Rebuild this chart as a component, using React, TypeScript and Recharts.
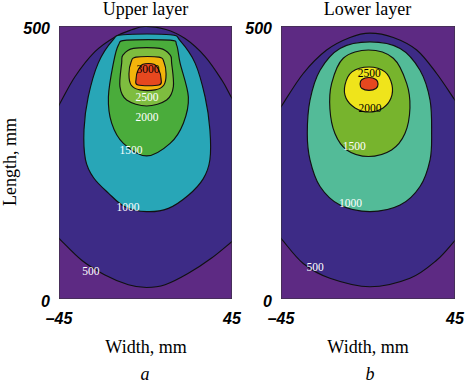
import React from "react";
import { ScatterChart, Scatter, XAxis, YAxis } from "recharts";

type Pt = { x: number; y: number };
type Tag = { x: number; y: number; text: string };

// axes: width -45..45 mm, length 0..500 mm
const widthTicks = [-45, 45];
const lengthTicks = [0, 500];
const frame: Pt[] = [
  { x: -45, y: 0 },
  { x: -45, y: 500 },
  { x: 45, y: 500 },
  { x: 45, y: 0 },
];

// upper layer contours
const upper500: Pt[] = [
  { x: -51, y: 318 }, { x: -45, y: 355 }, { x: -36.7, y: 407 }, { x: -26.3, y: 453 },
  { x: -15.9, y: 480 }, { x: -7.2, y: 493 }, { x: -0.3, y: 499 }, { x: 10.2, y: 494 },
  { x: 20.6, y: 477 }, { x: 31, y: 444 }, { x: 39.7, y: 401 }, { x: 44.9, y: 368 },
  { x: 51, y: 330 }, { x: 54, y: 225 }, { x: 51, y: 122 }, { x: 44.9, y: 105 },
  { x: 34.4, y: 75 }, { x: 22.3, y: 47 }, { x: 10.2, y: 26 }, { x: 0.6, y: 21 },
  { x: -8.9, y: 26 }, { x: -21.1, y: 44 }, { x: -33.2, y: 71 }, { x: -45, y: 111 },
  { x: -51, y: 131 }, { x: -54, y: 225 },
];
const upper1000: Pt[] = [
  { x: -11.5, y: 484 }, { x: 12.8, y: 484 }, { x: 18, y: 473 }, { x: 25.8, y: 432 },
  { x: 31, y: 370 }, { x: 33.5, y: 310 }, { x: 33.5, y: 255 }, { x: 30, y: 220 },
  { x: 22.3, y: 190 }, { x: 11.9, y: 166 }, { x: 0.6, y: 160 }, { x: -10.7, y: 169 },
  { x: -19.3, y: 194 }, { x: -27, y: 222 }, { x: -31.2, y: 255 }, { x: -32, y: 310 },
  { x: -29.8, y: 370 }, { x: -24.6, y: 432 }, { x: -17, y: 474 },
];
const upper1500: Pt[] = [
  { x: -9.8, y: 474 }, { x: 12.8, y: 474 }, { x: 16.2, y: 465 }, { x: 18, y: 432 },
  { x: 22.3, y: 370 }, { x: 19.7, y: 322 }, { x: 12.8, y: 285 }, { x: 0.6, y: 262 },
  { x: -11.5, y: 285 }, { x: -17.6, y: 322 }, { x: -19.3, y: 370 }, { x: -16.7, y: 432 },
  { x: -14.1, y: 465 },
];
const upper2000: Pt[] = [
  { x: -6.3, y: 459 }, { x: 7.5, y: 459 }, { x: 12.8, y: 447 }, { x: 13.6, y: 432 },
  { x: 14.5, y: 389 }, { x: 11, y: 364.5 }, { x: 0.6, y: 353.5 }, { x: -9.8, y: 364.5 },
  { x: -13.3, y: 389 }, { x: -12.4, y: 432 }, { x: -11.7, y: 447 },
];
const upper2500: Pt[] = [
  { x: -4.9, y: 443 }, { x: 7, y: 443 }, { x: 9.6, y: 434 }, { x: 10.7, y: 412 },
  { x: 9.6, y: 392 }, { x: 5, y: 383 }, { x: -2.9, y: 383 }, { x: -7.5, y: 392 },
  { x: -8.6, y: 412 }, { x: -7.5, y: 434 },
];
const upper3000: Pt[] = [
  { x: -1.3, y: 430 }, { x: 4.4, y: 430 }, { x: 7, y: 419 }, { x: 8.1, y: 403 },
  { x: 7, y: 392 }, { x: -3.9, y: 392 }, { x: -4.9, y: 403 }, { x: -3.9, y: 419 },
];
const upperTagsDark: Tag[] = [{ x: 1.3, y: 421, text: "3000" }];
const upperTagsLight: Tag[] = [
  { x: 0.8, y: 370, text: "2500" },
  { x: 0.8, y: 333, text: "2000" },
  { x: -7.6, y: 273, text: "1500" },
  { x: -9.1, y: 168, text: "1000" },
  { x: -28.4, y: 51, text: "500" },
];

// lower layer contours
const lower500: Pt[] = [
  { x: -51, y: 320 }, { x: -45, y: 352 }, { x: -33.5, y: 413 }, { x: -21.4, y: 456 },
  { x: -9.3, y: 479 }, { x: 1, y: 487 }, { x: 13.1, y: 479 }, { x: 25.2, y: 456 },
  { x: 35.5, y: 413 }, { x: 45, y: 364 }, { x: 51, y: 333 }, { x: 54, y: 230 },
  { x: 51, y: 130 }, { x: 45.2, y: 108 }, { x: 35.5, y: 71 }, { x: 21.7, y: 38 },
  { x: 1, y: 22.5 }, { x: -19.7, y: 38 }, { x: -33.5, y: 65 }, { x: -45, y: 111 },
  { x: -51, y: 135 }, { x: -54, y: 230 },
];
const lower1000: Pt[] = [
  { x: 1, y: 471 }, { x: 16.6, y: 459 }, { x: 26.9, y: 419 }, { x: 32.1, y: 364 },
  { x: 32.9, y: 303 }, { x: 32.1, y: 255 }, { x: 26.9, y: 206 }, { x: 16.6, y: 172 },
  { x: 1, y: 160 }, { x: -14.5, y: 172 }, { x: -24.8, y: 206 }, { x: -30, y: 255 },
  { x: -31.4, y: 303 }, { x: -30, y: 364 }, { x: -24.8, y: 419 }, { x: -14.5, y: 459 },
];
const lower1500: Pt[] = [
  { x: 0.2, y: 456 }, { x: 13.1, y: 441 }, { x: 20, y: 395 }, { x: 21.7, y: 350 },
  { x: 19.1, y: 303 }, { x: 12.2, y: 273 }, { x: 0.2, y: 261 }, { x: -11, y: 273 },
  { x: -17.1, y: 303 }, { x: -19.7, y: 348 }, { x: -18.8, y: 395 }, { x: -12.8, y: 441 },
];
const lower2000: Pt[] = [
  { x: 0.5, y: 425 }, { x: 8.8, y: 416 }, { x: 12.4, y: 392 }, { x: 11.9, y: 368 },
  { x: 7.8, y: 350 }, { x: 0.5, y: 342.5 }, { x: -6.7, y: 350 }, { x: -11.4, y: 368 },
  { x: -11.9, y: 392 }, { x: -8.3, y: 416 },
];
const lower2500: Pt[] = [
  { x: 0.5, y: 405.7 }, { x: 4.1, y: 402 }, { x: 5.2, y: 394 }, { x: 4.1, y: 385.5 },
  { x: 0.5, y: 382 }, { x: -3.1, y: 385.5 }, { x: -4.1, y: 394 }, { x: -3.1, y: 402 },
];
const lowerTagsDark: Tag[] = [
  { x: 0.7, y: 414.5, text: "2500" },
  { x: 1, y: 349, text: "2000" },
];
const lowerTagsLight: Tag[] = [
  { x: -7.1, y: 281, text: "1500" },
  { x: -9, y: 175, text: "1000" },
  { x: -27.4, y: 59, text: "500" },
];

const BACKGROUND = "#5d2a83";
const upperColors = ["#3d2b86", "#28a6b7", "#4aac3b", "#7ebd3f", "#f2b40b", "#e6481f"];
const lowerColors = ["#3d2b86", "#53bb98", "#77b42d", "#efe41b", "#e6481f"];

const serif = "'Liberation Serif', 'DejaVu Serif', serif";
const sans = "'Liberation Sans', Arial, sans-serif";

// smooth closed curve through the points the scatter hands over
function closedSpline(p: Pt[]) {
  const n = p.length;
  let d = `M${p[0].x},${p[0].y}`;
  for (let i = 0; i < n; i++) {
    const p0 = p[(i - 1 + n) % n];
    const p1 = p[i];
    const p2 = p[(i + 1) % n];
    const p3 = p[(i + 2) % n];
    const c1x = p1.x + (p2.x - p0.x) / 6;
    const c1y = p1.y + (p2.y - p0.y) / 6;
    const c2x = p2.x - (p3.x - p1.x) / 6;
    const c2y = p2.y - (p3.y - p1.y) / 6;
    d += `C${c1x},${c1y} ${c2x},${c2y} ${p2.x},${p2.y}`;
  }
  return d + "Z";
}

function ContourPath(props: any) {
  const { points, tone, edge = "#111", smooth = true, lineWidth = 1.15 } = props;
  if (!points || points.length < 3) return null;
  const d = smooth
    ? closedSpline(points)
    : "M" + points.map((p: Pt) => `${p.x},${p.y}`).join("L") + "Z";
  return <path d={d} fill={tone || "none"} stroke={edge} strokeWidth={lineWidth} />;
}

const Blank = () => <g />;

const makeTagShape = (color: string) => (props: any) => {
  const { cx, cy, payload } = props;
  return (
    <text
      x={cx}
      y={cy}
      textAnchor="middle"
      dominantBaseline="central"
      fontFamily={serif}
      fontSize={11.5}
      fill={color}
    >
      {payload.text}
    </text>
  );
};
const DarkTag = makeTagShape("#000");
const LightTag = makeTagShape("#fff");

const formatWidth = (v: number) => (v < 0 ? `–${Math.abs(v)}` : `${v}`);

interface PanelProps {
  left: number;
  width: number;
  margin: { top: number; right: number; bottom: number; left: number };
  yWidth: number;
  contours: Pt[][];
  colors: string[];
  darkTags: Tag[];
  lightTags: Tag[];
}

function Panel({ left, width, margin, yWidth, contours, colors, darkTags, lightTags }: PanelProps) {
  const tickStyle = { fontFamily: sans, fontSize: 16, fontWeight: "bold", fontStyle: "italic", fill: "#000" };
  return (
    <div style={{ position: "absolute", left, top: 0 }}>
      <ScatterChart width={width} height={384} margin={margin} style={{ overflow: "visible" }}>
        <XAxis
          dataKey="x"
          type="number"
          domain={[-45, 45]}
          ticks={widthTicks}
          allowDataOverflow
          axisLine={false}
          tickLine={false}
          tickSize={0}
          tickMargin={14}
          height={30}
          tick={tickStyle}
          tickFormatter={formatWidth}
          interval={0}
        />
        <YAxis
          dataKey="y"
          type="number"
          domain={[0, 500]}
          ticks={lengthTicks}
          allowDataOverflow
          axisLine={false}
          tickLine={false}
          tickSize={0}
          tickMargin={9}
          width={yWidth}
          tick={{ ...tickStyle, dy: 2 }}
          interval={0}
        />
        <Scatter
          data={frame}
          isAnimationActive={false}
          shape={Blank}
          line={<ContourPath tone={BACKGROUND} edge="none" smooth={false} />}
        />
        {contours.map((c, i) => (
          <Scatter
            key={i}
            data={c}
            isAnimationActive={false}
            shape={Blank}
            line={<ContourPath tone={colors[i]} />}
          />
        ))}
        <Scatter data={lightTags} isAnimationActive={false} shape={LightTag} />
        <Scatter data={darkTags} isAnimationActive={false} shape={DarkTag} />
        <Scatter
          data={frame}
          isAnimationActive={false}
          shape={Blank}
          line={<ContourPath edge="#333" smooth={false} lineWidth={1} />}
        />
      </ScatterChart>
    </div>
  );
}

export default function App() {
  return (
    <div style={{ position: "absolute", left: 0, top: 0, width: 465, height: 384, background: "#fff" }}>
      <Panel
        left={0}
        width={250}
        margin={{ top: 26, right: 18, bottom: 55, left: 9 }}
        yWidth={50}
        contours={[upper500, upper1000, upper1500, upper2000, upper2500, upper3000]}
        colors={upperColors}
        darkTags={upperTagsDark}
        lightTags={upperTagsLight}
      />
      <Panel
        left={236}
        width={229}
        margin={{ top: 26, right: 10, bottom: 55, left: 5 }}
        yWidth={40}
        contours={[lower500, lower1000, lower1500, lower2000, lower2500]}
        colors={lowerColors}
        darkTags={lowerTagsDark}
        lightTags={lowerTagsLight}
      />
      <svg
        width={465}
        height={384}
        style={{ position: "absolute", left: 0, top: 0, pointerEvents: "none" }}
      >
        <g fontFamily={serif} fontSize={18} fill="#000" textAnchor="middle">
          <text x={145.5} y={15}>Upper layer</text>
          <text x={367.5} y={15}>Lower layer</text>
          <text x={146} y={353}>Width, mm</text>
          <text x={368} y={353}>Width, mm</text>
          <text transform="translate(16,162) rotate(-90)">Length, mm</text>
          <text x={145} y={380} fontStyle="italic">a</text>
          <text x={370} y={380} fontStyle="italic">b</text>
        </g>
      </svg>
    </div>
  );
}
